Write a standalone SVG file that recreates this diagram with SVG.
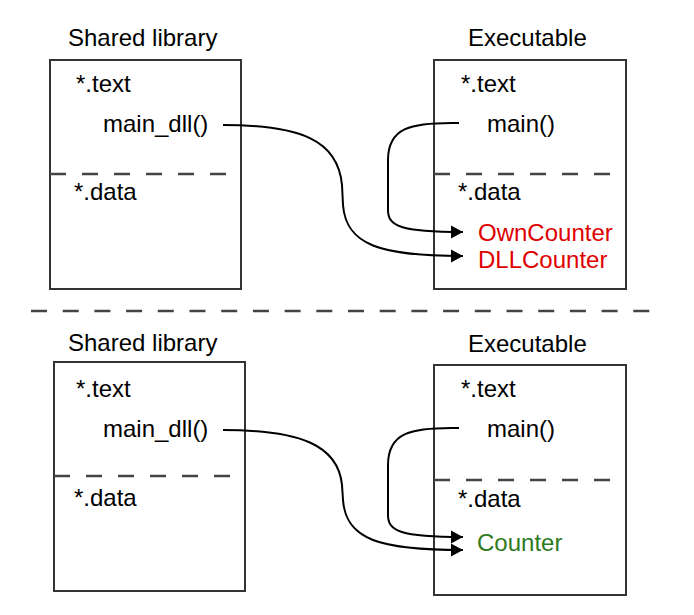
<svg xmlns="http://www.w3.org/2000/svg" width="694" height="615" viewBox="0 0 694 615">
  <defs>
    <style>
      .t { font-family: "Liberation Sans", Arial, sans-serif; font-size: 24px; fill: #000; }
      .red { fill: #e00000; }
      .green { fill: #2e7a1e; }
      .box { fill: #fff; stroke: #333; stroke-width: 2; }
      .sep { stroke: #444; stroke-width: 2.5; stroke-dasharray: 16 16; fill: none; }
      .conn { fill: none; stroke: #000; stroke-width: 2; }
    </style>
    <marker id="arr" markerUnits="userSpaceOnUse" markerWidth="14" markerHeight="14" refX="12" refY="7" orient="auto">
      <path d="M0,0.5 L12,7 L0,13.5 z" fill="#000"/>
    </marker>
  </defs>
  <rect width="694" height="615" fill="#fff"/>

  <!-- Top section -->
  <g id="top-shared-library">
    <text class="t" x="68" y="46">Shared library</text>
    <rect class="box" x="50" y="60" width="191" height="229"/>
    <text class="t" x="76" y="92">*.text</text>
    <text class="t" x="103" y="132">main_dll()</text>
    <line class="sep" x1="50" y1="174" x2="226" y2="174"/>
    <text class="t" x="74" y="200">*.data</text>
  </g>
  <g id="top-executable">
    <text class="t" x="468" y="46">Executable</text>
    <rect class="box" x="434" y="60" width="192" height="229"/>
    <text class="t" x="461" y="92">*.text</text>
    <text class="t" x="487" y="132">main()</text>
    <line class="sep" x1="434" y1="174" x2="610" y2="174"/>
    <text class="t" x="458" y="200">*.data</text>
    <text class="t red" x="478" y="241">OwnCounter</text>
    <text class="t red" x="478" y="268">DLLCounter</text>
  </g>

  <line id="divider" x1="31" y1="311" x2="660" y2="311" style="stroke:#444;stroke-width:2.5;stroke-dasharray:16 15.7;fill:none"/>

  <!-- Bottom section -->
  <g id="bottom-shared-library">
    <text class="t" x="68" y="351">Shared library</text>
    <rect class="box" x="54" y="362" width="191" height="229"/>
    <text class="t" x="76" y="397">*.text</text>
    <text class="t" x="103" y="437">main_dll()</text>
    <line class="sep" x1="54" y1="476" x2="231" y2="476"/>
    <text class="t" x="74" y="506">*.data</text>
  </g>
  <g id="bottom-executable">
    <text class="t" x="468" y="352">Executable</text>
    <rect class="box" x="434" y="365" width="192" height="230"/>
    <text class="t" x="461" y="397">*.text</text>
    <text class="t" x="487" y="437">main()</text>
    <line class="sep" x1="434" y1="480" x2="610" y2="480"/>
    <text class="t" x="458" y="507">*.data</text>
    <text class="t green" x="477" y="551">Counter</text>
  </g>

  <g id="connectors">
    <path class="conn" marker-end="url(#arr)" d="M223,125 C300,125 338,140 342,185 L343,205 C346,245 380,256 463,256"/>
    <path class="conn" marker-end="url(#arr)" d="M459,123 C410,122 388,128 388,160 L388,210 C388,226 400,232 463,232"/>
    <path class="conn" marker-end="url(#arr)" d="M223,430 C300,430 338,445 342,485 L343,500 C346,540 380,550 463,550"/>
    <path class="conn" marker-end="url(#arr)" d="M459,428 C410,427 388,433 388,465 L388,515 C388,531 400,537 463,537"/>
  </g>
</svg>
